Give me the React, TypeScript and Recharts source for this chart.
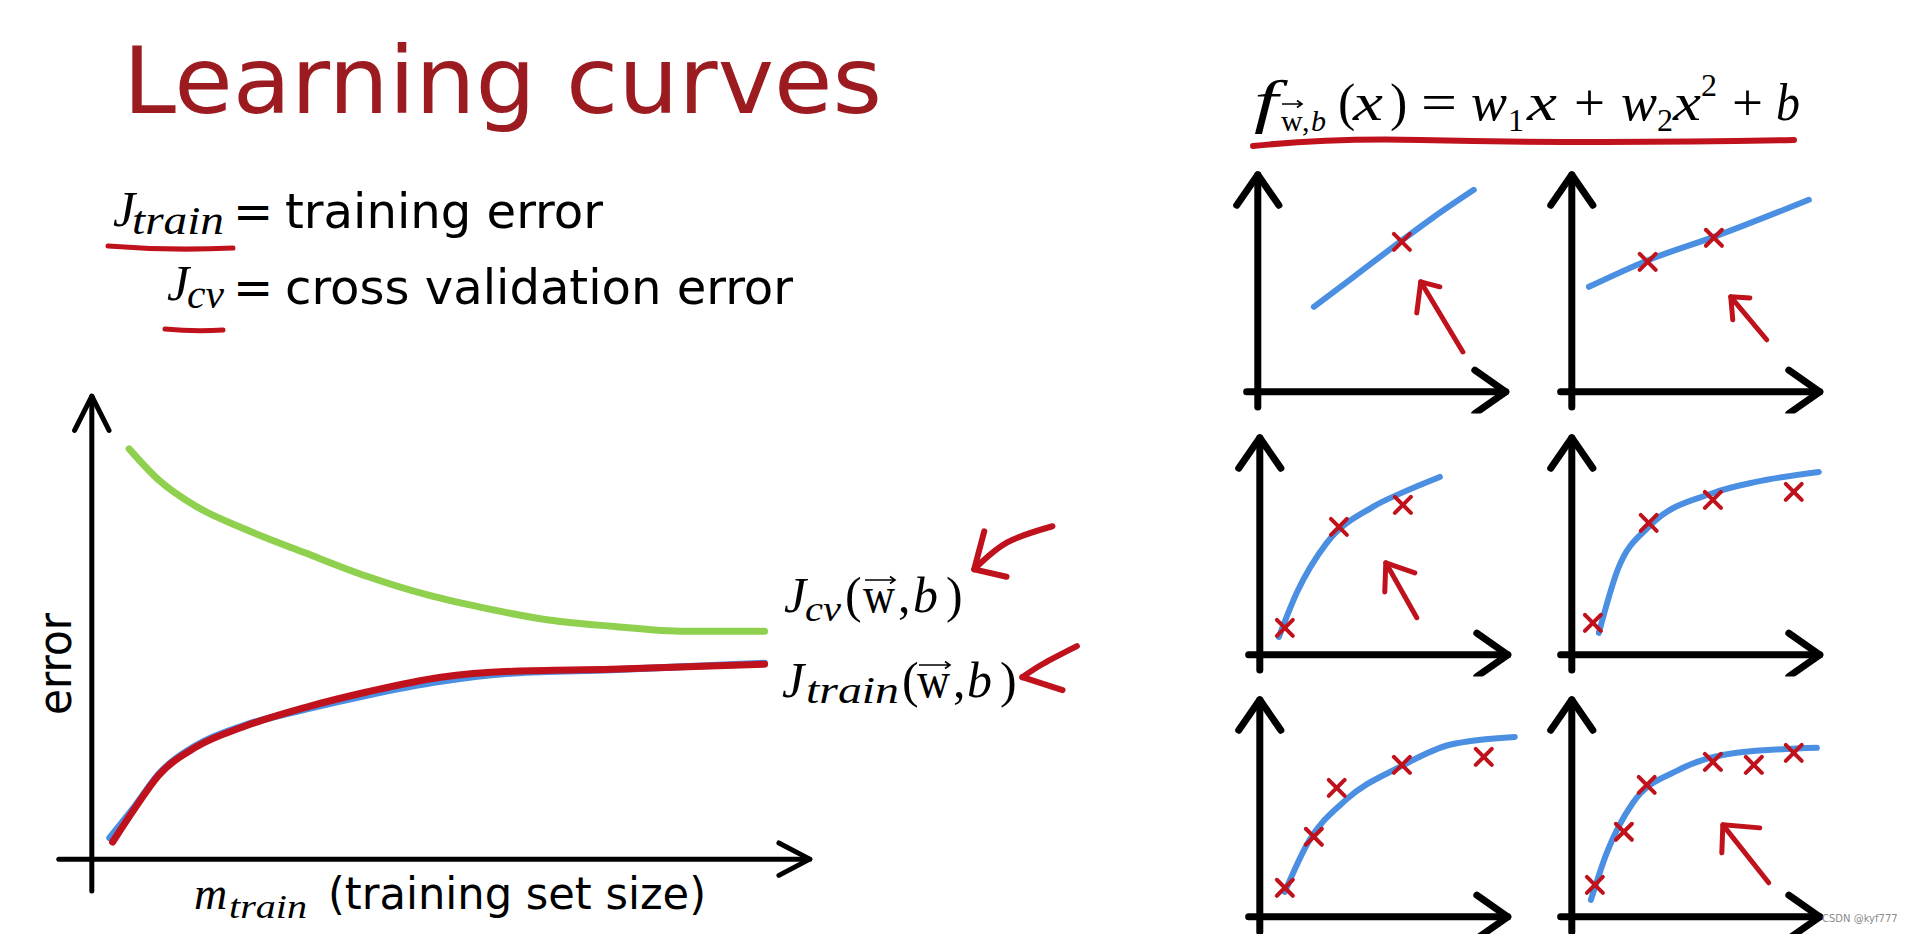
import React from 'react';
import { ComposedChart, Line, Scatter, XAxis, YAxis } from 'recharts';

const RED = '#c0121c';
const BLUE = '#4b8fe2';
const GREEN = '#8fd14f';
const TITLE_RED = '#9b1b20';
const SANS = '"DejaVu Sans", sans-serif';
const SERIF = '"Liberation Serif", serif';

// main learning curves: x = m_train, y = error
const cvX = [5.2, 9.3, 14.5, 21.3, 29.8, 38.3, 46.9, 55.4, 63.9, 72.4, 82.7, 93.7];
const cvY = [88.6, 81.9, 76.2, 71.3, 66.1, 61.1, 57.0, 54.0, 51.6, 50.3, 49.2, 49.2];
const trainX = [2.9, 6.0, 9.3, 14.5, 21.3, 29.8, 38.3, 48.6, 58.8, 72.4, 93.7];
const trainY = [3.7, 11.0, 18.1, 24.2, 28.7, 32.8, 36.1, 39.3, 40.6, 41.0, 42.1];
const trainBlueX = [2.5, 6.0, 9.3, 14.5, 21.3, 29.8, 38.3, 48.6, 58.8, 72.4, 93.7];
const trainBlueY = [4.6, 11.4, 18.3, 24.5, 28.9, 32.4, 35.4, 38.4, 40.2, 40.9, 42.3];

// axis arrows and the two hand drawn pointers, in the main chart's units
const mainAxisY = [[0, -6.9], [0, 100]];
const mainHeadY = [[-2.4, 92.6], [0, 100], [2.4, 92.6]];
const mainAxisX = [[-4.6, 0], [100, 0]];
const mainHeadX = [[95.7, 3.5], [100, 0], [95.7, -3.5]];
const cvPointer = { shaft: [[133.8, 71.9], [127.5, 68.4], [122.9, 62.6]], head: [[124.3, 70.8], [122.9, 62.6], [127.4, 61.0]] };
const trainPointer = { shaft: [[137.2, 46.0], [132.5, 42.2], [129.6, 39.3]], head: [[129.6, 39.3], [135.2, 36.5]] };

// six small fit examples: fitted curve, training points (x marks), pointer
const p1Fit = [[2.26, 3.92], [3.87, 5.3], [5.73, 6.91], [7.1, 8.06], [8.71, 9.31]];
const p1Marks = [[5.81, 6.91]];
const p1Arrow = { shaft: [[8.27, 1.84], [6.57, 5.07]], head: [[6.41, 3.64], [6.57, 5.07], [7.34, 4.84]] };

const p2Fit = [[0.69, 4.84], [3.1, 6.08], [5.73, 7.14], [9.56, 8.85]];
const p2Marks = [[3.06, 5.99], [5.73, 7.1]];
const p2Arrow = { shaft: [[7.86, 2.4], [6.41, 4.38]], head: [[6.49, 3.32], [6.41, 4.38], [7.18, 4.33]] };

const p3Fit = [[0.77, 0.83], [1.49, 2.86], [2.7, 5.16], [4.56, 6.82], [5.81, 7.51], [7.26, 8.2]];
const p3Marks = [[1.01, 1.24], [3.19, 5.9], [5.77, 6.91]];
const p3Arrow = { shaft: [[6.33, 1.71], [5.08, 4.24]], head: [[5.04, 2.9], [5.08, 4.24], [6.25, 3.78]] };

const p4Fit = [[1.09, 1.01], [1.85, 3.92], [3.1, 5.9], [5.73, 7.47], [7.42, 7.97], [9.96, 8.43]];
const p4Marks = [[0.85, 1.47], [3.1, 6.08], [5.69, 7.14], [8.95, 7.51]];

const p5Fit = [[1.01, 1.15], [1.94, 3.41], [3.47, 5.39], [5.65, 6.91], [7.66, 7.93], [10.28, 8.29]];
const p5Marks = [[1.01, 1.34], [2.18, 3.69], [3.1, 5.94], [5.73, 7.0], [9.03, 7.37]];

const p6Fit = [[0.77, 0.78], [1.41, 2.95], [2.46, 5.25], [4.31, 6.77], [6.65, 7.56], [9.88, 7.79]];
const p6Marks = [[0.93, 1.47], [2.1, 3.92], [3.02, 6.08], [5.69, 7.14], [7.34, 7.0], [8.95, 7.56]];
const p6Arrow = { shaft: [[7.94, 1.57], [6.09, 4.24]], head: [[6.05, 2.95], [6.09, 4.24], [7.58, 4.1]] };

const panelAxisY = [[0, -0.7], [0, 10]];
const panelHeadY = [[-0.85, 8.6], [0, 10], [0.85, 8.6]];
const panelAxisX = [[-0.45, 0], [10, 0]];
const panelHeadX = [[8.75, 1.0], [10, 0], [8.75, -1.0]];

const pts = (a: number[][]) => a.map(([x, y]) => ({ x, y }));
const zip = (xs: number[], ys: number[]) => xs.map((x, i) => ({ x, y: ys[i] }));

// layout
const MAIN = { ox: 92, oy: 859, ux: 7.18, uy: 4.63, xd: [-10, 140], yd: [-10, 105] };
const PANEL = { ux: 24.8, uy: 21.7, xd: [-1, 11], yd: [-1, 10.5] };

function Poly({ data, color, width, curve = 'linear' }: { data: { x: number; y: number }[]; color: string; width: number; curve?: any }) {
  return (
    <Line
      data={data}
      dataKey="y"
      type={curve}
      stroke={color}
      strokeWidth={width}
      strokeLinecap="round"
      strokeLinejoin="round"
      dot={false}
      activeDot={false}
      isAnimationActive={false}
    />
  );
}

const Cross = (props: any) => {
  const { cx, cy } = props;
  const r = 8;
  return (
    <g stroke={RED} strokeWidth={4} strokeLinecap="round">
      <line x1={cx - r} y1={cy - r} x2={cx + r} y2={cy + r} />
      <line x1={cx - r} y1={cy + r} x2={cx + r} y2={cy - r} />
    </g>
  );
};

function MainChart() {
  const { ox, oy, ux, uy, xd, yd } = MAIN;
  const left = ox + xd[0] * ux;
  const top = oy - yd[1] * uy;
  const w = (xd[1] - xd[0]) * ux;
  const h = (yd[1] - yd[0]) * uy;
  return (
    <div style={{ position: 'absolute', left, top }}>
      <ComposedChart width={w} height={h} margin={{ top: 0, right: 0, bottom: 0, left: 0 }}>
        <XAxis type="number" dataKey="x" domain={xd} allowDataOverflow hide />
        <YAxis type="number" dataKey="y" domain={yd} allowDataOverflow hide />
        {Poly({ data: zip(cvX, cvY), color: GREEN, width: 7, curve: 'monotone' })}
        {Poly({ data: zip(trainBlueX, trainBlueY), color: BLUE, width: 7, curve: 'monotone' })}
        {Poly({ data: zip(trainX, trainY), color: RED, width: 7, curve: 'monotone' })}
        {Poly({ data: pts(mainAxisY), color: '#000', width: 5 })}
        {Poly({ data: pts(mainHeadY), color: '#000', width: 5 })}
        {Poly({ data: pts(mainAxisX), color: '#000', width: 5 })}
        {Poly({ data: pts(mainHeadX), color: '#000', width: 5 })}
        {Poly({ data: pts(cvPointer.shaft), color: RED, width: 6, curve: 'natural' })}
        {Poly({ data: pts(cvPointer.head), color: RED, width: 6 })}
        {Poly({ data: pts(trainPointer.shaft), color: RED, width: 6, curve: 'natural' })}
        {Poly({ data: pts(trainPointer.head), color: RED, width: 6 })}
      </ComposedChart>
    </div>
  );
}

type Arrow = { shaft: number[][]; head: number[][] };

function Panel({ ox, oy, fit, marks, arrow }: { ox: number; oy: number; fit: number[][]; marks: number[][]; arrow?: Arrow }) {
  const { ux, uy, xd, yd } = PANEL;
  const left = ox + xd[0] * ux;
  const top = oy - yd[1] * uy;
  const w = (xd[1] - xd[0]) * ux;
  const h = (yd[1] - yd[0]) * uy;
  return (
    <div style={{ position: 'absolute', left, top }}>
      <ComposedChart width={w} height={h} margin={{ top: 0, right: 0, bottom: 0, left: 0 }}>
        <XAxis type="number" dataKey="x" domain={xd} allowDataOverflow hide />
        <YAxis type="number" dataKey="y" domain={yd} allowDataOverflow hide />
        {Poly({ data: pts(panelAxisY), color: '#000', width: 7 })}
        {Poly({ data: pts(panelHeadY), color: '#000', width: 7 })}
        {Poly({ data: pts(panelAxisX), color: '#000', width: 7 })}
        {Poly({ data: pts(panelHeadX), color: '#000', width: 7 })}
        <Scatter data={pts(marks)} shape={Cross} isAnimationActive={false} />
        {Poly({ data: pts(fit), color: BLUE, width: 6, curve: 'monotone' })}
        {arrow && Poly({ data: pts(arrow.shaft), color: RED, width: 5 })}
        {arrow && Poly({ data: pts(arrow.head), color: RED, width: 5 })}
      </ComposedChart>
    </div>
  );
}

function VecArrow({ x, y, len }: { x: number; y: number; len: number }) {
  return (
    <path
      d={`M${x} ${y} L${x + len} ${y} M${x + len - 5} ${y - 3.5} L${x + len} ${y} L${x + len - 5} ${y + 3.5}`}
      stroke="#000"
      strokeWidth={1.6}
      fill="none"
    />
  );
}

const T = (p: any) => <text fontFamily={SERIF} {...p} />;

function Texts() {
  return (
    <svg width={1920} height={934} style={{ position: 'absolute', left: 0, top: 0, pointerEvents: 'none' }}>
      <text x={123} y={113} fontFamily={SANS} fontSize={93} fill={TITLE_RED} textLength={759} lengthAdjust="spacingAndGlyphs">
        Learning curves
      </text>

      {/* definitions */}
      <T x={113} y={226} fontStyle="italic" fontSize={50}>J</T>
      <T x={132} y={234} fontStyle="italic" fontSize={40} textLength={92} lengthAdjust="spacingAndGlyphs">train</T>
      <text x={233} y={228} fontFamily={SANS} fontSize={48}>=</text>
      <text x={285} y={228} fontFamily={SANS} fontSize={48} textLength={318} lengthAdjust="spacingAndGlyphs">training error</text>
      <path d="M108 246 Q170 251 233 248" stroke={RED} strokeWidth={5} fill="none" strokeLinecap="round" />

      <T x={167} y={300} fontStyle="italic" fontSize={50}>J</T>
      <T x={187} y={308} fontStyle="italic" fontSize={40} textLength={37} lengthAdjust="spacingAndGlyphs">cv</T>
      <text x={233} y={304} fontFamily={SANS} fontSize={48}>=</text>
      <text x={285} y={304} fontFamily={SANS} fontSize={48} textLength={508} lengthAdjust="spacingAndGlyphs">cross validation error</text>
      <path d="M165 329 Q195 332 223 330" stroke={RED} strokeWidth={5} fill="none" strokeLinecap="round" />

      {/* formula */}
      <T x={1254} y={121} fontStyle="italic" fontSize={60} textLength={24} lengthAdjust="spacingAndGlyphs">f</T>
      <T x={1281} y={131} fontSize={30}>w</T>
      <T x={1302} y={131} fontSize={30}>,</T>
      <T x={1311} y={131} fontSize={30} fontStyle="italic">b</T>
      <VecArrow x={1282} y={104} len={20} />
      <T x={1338} y={120} fontSize={52}>(</T>
      <T x={1353} y={120} fontSize={52} fontStyle="italic" textLength={30} lengthAdjust="spacingAndGlyphs">x</T>
      <T x={1390} y={120} fontSize={52}>)</T>
      <T x={1421} y={120} fontSize={52} textLength={36} lengthAdjust="spacingAndGlyphs">=</T>
      <T x={1471} y={120} fontStyle="italic" fontSize={52} textLength={36} lengthAdjust="spacingAndGlyphs">w</T>
      <T x={1508} y={131} fontSize={32}>1</T>
      <T x={1527} y={120} fontStyle="italic" fontSize={52} textLength={30} lengthAdjust="spacingAndGlyphs">x</T>
      <T x={1574} y={120} fontSize={52} textLength={31} lengthAdjust="spacingAndGlyphs">+</T>
      <T x={1621} y={120} fontStyle="italic" fontSize={52} textLength={36} lengthAdjust="spacingAndGlyphs">w</T>
      <T x={1657} y={131} fontSize={32}>2</T>
      <T x={1673} y={120} fontStyle="italic" fontSize={52} textLength={28} lengthAdjust="spacingAndGlyphs">x</T>
      <T x={1701} y={96} fontSize={32}>2</T>
      <T x={1732} y={120} fontSize={52} textLength={31} lengthAdjust="spacingAndGlyphs">+</T>
      <T x={1776} y={120} fontStyle="italic" fontSize={52} textLength={24} lengthAdjust="spacingAndGlyphs">b</T>
      <path d="M1253 146 Q1330 138 1420 140 Q1600 144 1794 140" stroke={RED} strokeWidth={6} fill="none" strokeLinecap="round" />

      {/* curve labels */}
      <T x={784} y={612} fontStyle="italic" fontSize={50}>J</T>
      <T x={805} y={621} fontStyle="italic" fontSize={36} textLength={36} lengthAdjust="spacingAndGlyphs">cv</T>
      <T x={845} y={612} fontSize={50}>(</T>
      <T x={863} y={612} fontSize={50} textLength={32} lengthAdjust="spacingAndGlyphs">w</T>
      <T x={898} y={612} fontSize={50}>,</T>
      <T x={913} y={612} fontStyle="italic" fontSize={50}>b</T>
      <T x={946} y={612} fontSize={50}>)</T>
      <VecArrow x={865} y={580} len={30} />

      <T x={782} y={697} fontStyle="italic" fontSize={50}>J</T>
      <T x={806} y={703} fontStyle="italic" fontSize={38} textLength={93} lengthAdjust="spacingAndGlyphs">train</T>
      <T x={902} y={697} fontSize={50}>(</T>
      <T x={917} y={697} fontSize={50} textLength={33} lengthAdjust="spacingAndGlyphs">w</T>
      <T x={953} y={697} fontSize={50}>,</T>
      <T x={967} y={697} fontStyle="italic" fontSize={50}>b</T>
      <T x={1000} y={697} fontSize={50}>)</T>
      <VecArrow x={919} y={665} len={31} />

      {/* axis titles */}
      <text x={71} y={664} fontFamily={SANS} fontSize={46} textAnchor="middle" transform="rotate(-90 71 664)" textLength={102} lengthAdjust="spacingAndGlyphs">
        error
      </text>
      <T x={194} y={909} fontStyle="italic" fontSize={46}>m</T>
      <T x={229} y={918} fontStyle="italic" fontSize={34} textLength={78} lengthAdjust="spacingAndGlyphs">train</T>
      <text x={328} y={909} fontFamily={SANS} fontSize={44} textLength={378} lengthAdjust="spacingAndGlyphs">(training set size)</text>

      <text x={1822} y={922} fontFamily={SANS} fontSize={10} fill="#8a8a8a">CSDN @kyf777</text>
    </svg>
  );
}

export default function App() {
  return (
    <div style={{ position: 'absolute', left: 0, top: 0, width: 1920, height: 934, overflow: 'hidden', background: '#fff' }}>
      <MainChart />
      <Panel ox={1258} oy={392} fit={p1Fit} marks={p1Marks} arrow={p1Arrow} />
      <Panel ox={1572} oy={392} fit={p2Fit} marks={p2Marks} arrow={p2Arrow} />
      <Panel ox={1260} oy={655} fit={p3Fit} marks={p3Marks} arrow={p3Arrow} />
      <Panel ox={1572} oy={655} fit={p4Fit} marks={p4Marks} />
      <Panel ox={1260} oy={917} fit={p5Fit} marks={p5Marks} />
      <Panel ox={1572} oy={917} fit={p6Fit} marks={p6Marks} arrow={p6Arrow} />
      <Texts />
    </div>
  );
}
